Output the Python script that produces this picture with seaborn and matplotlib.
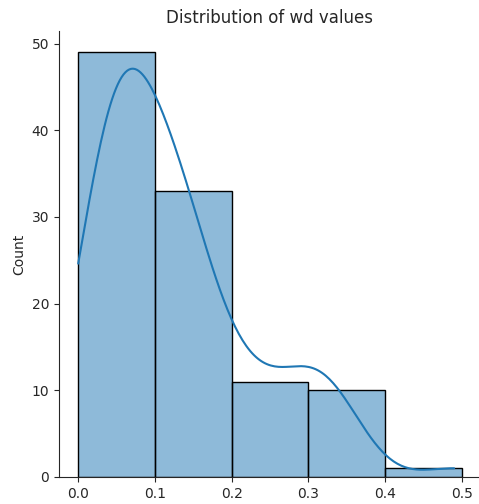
import numpy as np
import pandas as pd
import matplotlib
matplotlib.use("Agg")
import matplotlib.pyplot as plt
import seaborn as sns

# wd observations (value, number of occurrences)
wd_values = [0.00, 0.02, 0.04, 0.06, 0.08,
             0.11, 0.13, 0.15, 0.17, 0.19,
             0.21, 0.23, 0.25, 0.27, 0.29,
             0.305, 0.32, 0.34, 0.36,
             0.49]
wd_counts = [5, 8, 11, 12, 13,
             10, 9, 6, 5, 3,
             2, 3, 2, 2, 2,
             3, 3, 2, 2,
             1]

df = pd.DataFrame({"wd": np.repeat(wd_values, wd_counts)})

sns.set_style("ticks")
fig = plt.figure(figsize=(4.79, 5.04), dpi=100)
ax = fig.add_axes([59 / 479, 27 / 504, 422 / 479, 446 / 504])

sns.histplot(data=df, x="wd", binwidth=0.1, binrange=(0, 0.5),
             kde=True, ax=ax, edgecolor="black", linewidth=1)
sns.despine(ax=ax)
ax.set_title("Distribution of wd values", fontsize=12)
ax.set_xlabel("")
ax.set_ylabel("Count")
ax.set_xticks([0.0, 0.1, 0.2, 0.3, 0.4, 0.5])

fig.savefig("out.png", dpi=100)
